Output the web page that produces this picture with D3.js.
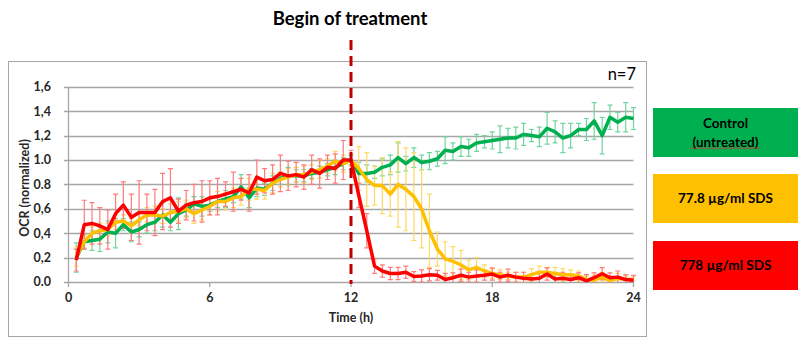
<!DOCTYPE html>
<html><head><meta charset="utf-8">
<script src="https://cdn.jsdelivr.net/npm/d3@7"></script>
<style>body{margin:0;background:#fff}svg{display:block}text{font-family:Lato,"Open Sans",sans-serif}</style>
</head><body><svg id="c" width="808" height="344"></svg>
<script>
const hours = [0.33,0.67,1,1.33,1.67,2,2.33,2.67,3,3.33,3.67,4,4.33,4.67,5,5.33,5.67,6,6.33,6.67,7,7.33,7.67,8,8.33,8.67,9,9.33,9.67,10,10.33,10.67,11,11.33,11.67,12,12.33,12.67,13,13.33,13.67,14,14.33,14.67,15,15.33,15.67,16,16.33,16.67,17,17.33,17.67,18,18.33,18.67,19,19.33,19.67,20,20.33,20.67,21,21.33,21.67,22,22.33,22.67,23,23.33,23.67,24];
const control = [0.20,0.33,0.34,0.35,0.41,0.40,0.47,0.41,0.43,0.47,0.49,0.55,0.49,0.56,0.59,0.64,0.62,0.63,0.66,0.68,0.70,0.78,0.69,0.77,0.76,0.81,0.85,0.87,0.87,0.87,0.89,0.90,0.92,0.94,0.97,1.00,0.89,0.89,0.90,0.94,0.96,1.02,0.97,1.02,0.98,0.99,1.01,1.08,1.07,1.11,1.10,1.14,1.15,1.16,1.17,1.18,1.18,1.21,1.20,1.19,1.26,1.23,1.18,1.20,1.25,1.25,1.32,1.20,1.35,1.31,1.35,1.34];
const controlErr = [0.12,0.06,0.08,0.10,0.09,0.12,0.05,0.08,0.06,0.07,0.07,0.10,0.07,0.13,0.05,0.06,0.08,0.05,0.05,0.07,0.05,0.10,0.08,0.07,0.05,0.06,0.05,0.07,0.05,0.05,0.04,0.05,0.05,0.06,0.05,0.04,0.09,0.07,0.05,0.07,0.08,0.12,0.06,0.08,0.06,0.07,0.06,0.11,0.07,0.08,0.07,0.07,0.05,0.07,0.11,0.08,0.09,0.09,0.05,0.08,0.13,0.09,0.12,0.10,0.05,0.09,0.15,0.15,0.10,0.08,0.12,0.09];
const low = [0.21,0.33,0.40,0.42,0.43,0.49,0.50,0.46,0.51,0.55,0.55,0.54,0.57,0.58,0.60,0.56,0.59,0.62,0.66,0.66,0.69,0.70,0.76,0.76,0.75,0.81,0.84,0.86,0.88,0.88,0.90,0.92,0.95,0.99,0.97,1.00,0.93,0.84,0.79,0.79,0.72,0.80,0.76,0.70,0.60,0.42,0.27,0.19,0.17,0.14,0.10,0.12,0.09,0.07,0.06,0.05,0.04,0.04,0.06,0.08,0.08,0.07,0.06,0.06,0.05,0.02,0.015,0.04,0.01,0.03,0.02,0.02];
const lowErr = [0.08,0.05,0.05,0.06,0.05,0.06,0.05,0.06,0.05,0.06,0.07,0.06,0.07,0.08,0.07,0.08,0.08,0.07,0.08,0.07,0.08,0.07,0.09,0.08,0.07,0.08,0.06,0.07,0.06,0.07,0.06,0.07,0.06,0.08,0.07,0.05,0.18,0.22,0.16,0.23,0.18,0.35,0.34,0.36,0.32,0.30,0.14,0.14,0.12,0.12,0.08,0.08,0.05,0.04,0.04,0.03,0.04,0.04,0.05,0.05,0.04,0.05,0.05,0.04,0.04,0.03,0.04,0.04,0.04,0.04,0.03,0.03];
const high = [0.18,0.47,0.48,0.46,0.43,0.56,0.63,0.53,0.57,0.57,0.57,0.66,0.69,0.58,0.63,0.65,0.66,0.69,0.70,0.72,0.74,0.76,0.73,0.86,0.83,0.84,0.89,0.87,0.88,0.86,0.92,0.89,0.94,0.93,1.00,1.00,0.71,0.42,0.13,0.09,0.07,0.07,0.08,0.045,0.05,0.06,0.055,0.02,0.035,0.055,0.04,0.05,0.055,0.065,0.04,0.055,0.04,0.03,0.025,0.03,0.065,0.025,0.03,0.02,0.035,0.01,0.035,0.068,0.035,0.04,0.02,0.015];
const highErr = [0.09,0.20,0.17,0.15,0.16,0.16,0.19,0.19,0.26,0.15,0.19,0.23,0.24,0.10,0.12,0.15,0.17,0.14,0.15,0.10,0.16,0.09,0.15,0.14,0.10,0.12,0.15,0.12,0.10,0.10,0.12,0.12,0.10,0.12,0.16,0.08,0.10,0.14,0.06,0.05,0.05,0.05,0.05,0.04,0.05,0.05,0.04,0.05,0.04,0.05,0.04,0.05,0.04,0.05,0.04,0.05,0.04,0.05,0.04,0.05,0.05,0.04,0.05,0.04,0.04,0.05,0.04,0.05,0.04,0.05,0.04,0.04];
const xTicks = [0,6,12,18,24];
const yTicks = [0,0.2,0.4,0.6,0.8,1.0,1.2,1.4,1.6];
const yTickLabels = ["0.0","0,2","0,4","0,6","0.8","1.0","1,2","1,4","1,6"];
const seriesNames = ["Control", "77.8 µg/ml SDS", "778 µg/ml SDS"];

const svg = d3.select("#c");
const x = d3.scaleLinear().domain([0,24]).range([68.5,633.5]);
const y = d3.scaleLinear().domain([0,1.6]).range([282,86.8]);

svg.append("rect").attr("x",8.5).attr("y",61.5).attr("width",638).attr("height",275)
  .attr("fill","#fff").attr("stroke","#a6a6a6").attr("stroke-width",1);

svg.append("g").selectAll("line").data(yTicks).join("line")
  .attr("x1",64).attr("x2",633.5).attr("y1",d=>Math.round(y(d))+0.5).attr("y2",d=>Math.round(y(d))+0.5)
  .attr("stroke","#a6a6a6").attr("stroke-width",1.3);
svg.append("line").attr("x1",68.5).attr("x2",68.5).attr("y1",y(1.6)).attr("y2",282.5).attr("stroke","#a6a6a6").attr("stroke-width",1.3);
svg.append("g").selectAll("line").data(xTicks).join("line")
  .attr("x1",d=>x(d)).attr("x2",d=>x(d)).attr("y1",282).attr("y2",287).attr("stroke","#a6a6a6").attr("stroke-width",1.3);

svg.append("g").selectAll("text").data(yTicks).join("text")
  .attr("x",51).attr("y",d=>y(d)).attr("dy","0.35em").attr("text-anchor","end")
  .attr("font-size",12.5).attr("font-weight","bold").attr("fill","#262626")
  .text((d,i)=>yTickLabels[i]);
svg.append("g").selectAll("text").data(xTicks).join("text")
  .attr("x",d=>x(d)).attr("y",298).attr("dy","0.35em").attr("text-anchor","middle")
  .attr("font-size",12.5).attr("font-weight","bold").attr("fill","#262626").text(d=>d);

svg.append("text").attr("x",351).attr("y",318).attr("dy","0.35em").attr("text-anchor","middle")
  .attr("font-size",12.5).attr("font-weight","bold").attr("fill","#262626").text("Time (h)");
svg.append("text").attr("transform","translate(25,188) rotate(-90)").attr("dy","0.35em").attr("text-anchor","middle")
  .attr("font-size",12.5).attr("font-weight","bold").attr("fill","#262626").text("OCR (normalized)");

svg.append("text").attr("x",636).attr("y",80).attr("text-anchor","end")
  .attr("font-size",16.5).attr("fill","#000").text("n=7");

svg.append("clipPath").attr("id","pc").append("rect").attr("x",60).attr("y",70).attr("width",590).attr("height",212.5);

const series = [
  {vals:control, err:controlErr, color:"#00B050", ecolor:"#6fd59a"},
  {vals:low, err:lowErr, color:"#FFC000", ecolor:"#ffd966"},
  {vals:high, err:highErr, color:"#FF0000", ecolor:"#ff7a7a"}
];
const gPlot = svg.append("g").attr("clip-path","url(#pc)");
series.forEach(s=>{
  const pts = hours.map((h,i)=>({h, v:s.vals[i], e:s.err[i]}));
  const ge = gPlot.append("g").attr("stroke",s.ecolor).attr("stroke-width",1.2);
  pts.forEach(p=>{
    const x0 = x(p.h), yt = y(p.v+p.e), yb = y(Math.max(0,p.v-p.e));
    ge.append("line").attr("x1",x0).attr("x2",x0).attr("y1",yt).attr("y2",yb);
    ge.append("line").attr("x1",x0-2.5).attr("x2",x0+2.5).attr("y1",yt).attr("y2",yt);
    if (p.v-p.e >= 0) ge.append("line").attr("x1",x0-2.5).attr("x2",x0+2.5).attr("y1",yb).attr("y2",yb);
  });
});
series.forEach(s=>{
  const pts = hours.map((h,i)=>({h, v:s.vals[i]}));
  gPlot.append("path").datum(pts)
    .attr("d",d3.line().x(d=>x(d.h)).y(d=>y(d.v)))
    .attr("fill","none").attr("stroke",s.color).attr("stroke-width",3.5).attr("stroke-linejoin","round");
});

svg.append("line").attr("x1",x(12)).attr("x2",x(12)).attr("y1",40).attr("y2",284)
  .attr("stroke","#C00000").attr("stroke-width",3).attr("stroke-dasharray","10,6");

svg.append("text").attr("x",350).attr("y",19).attr("dy","0.35em").attr("text-anchor","middle")
  .attr("font-size",18.5).attr("font-weight","bold").attr("fill","#000").text("Begin of treatment");

const legend = [
  {y:108, fill:"#00B050", lines:["Control","(untreated)"]},
  {y:174, fill:"#FFC000", lines:[seriesNames[1]]},
  {y:241, fill:"#FF0000", lines:[seriesNames[2]]}
];
legend.forEach((l,i)=>{
  svg.append("rect").attr("x",653).attr("y",l.y).attr("width",145).attr("height",49).attr("fill",l.fill);
  const n = l.lines.length;
  l.lines.forEach((t,j)=>{
    svg.append("text").attr("x",725.5).attr("y",l.y+24.5+(j-(n-1)/2)*19).attr("dy","0.35em")
      .attr("text-anchor","middle").attr("font-size",13.5).attr("font-weight","bold").attr("fill","#000").text(t);
  });
});
(function(){
  let d = "M690,149"; let up = true;
  for (let xx = 692; xx <= 760; xx += 2){ d += "L"+xx+","+(up?147.5:149); up=!up; }
  svg.append("path").attr("d",d).attr("fill","none").attr("stroke","#e03030").attr("stroke-width",0.8);
})();
</script></body></html>
